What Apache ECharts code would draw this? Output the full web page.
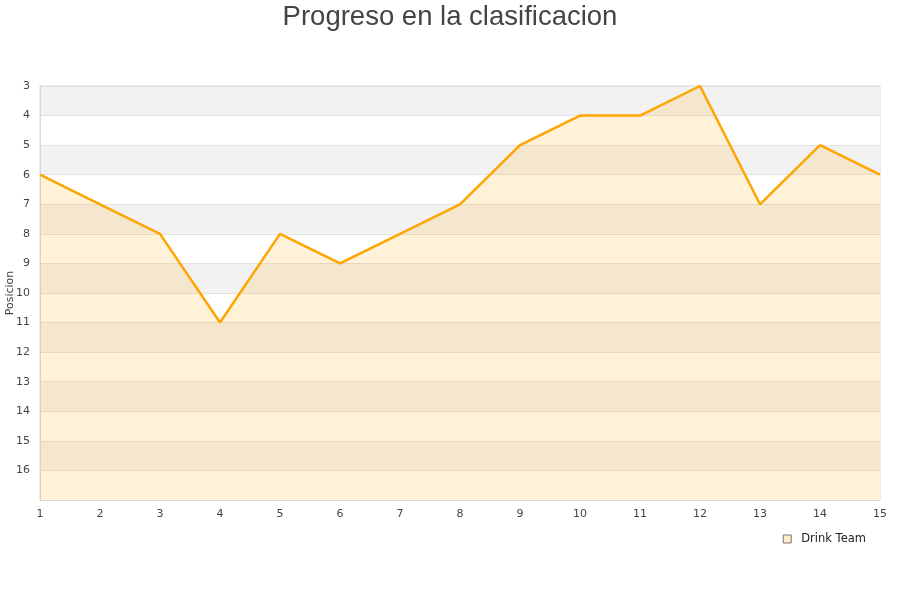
<!DOCTYPE html>
<html><head><meta charset="utf-8">
<script src="https://cdn.jsdelivr.net/npm/echarts@6/dist/echarts.min.js"></script>
<style>html,body{margin:0;padding:0;background:#fff}#c{width:900px;height:600px}</style>
</head><body><div id="c"></div>
<script>
const rounds = ['1','2','3','4','5','6','7','8','9','10','11','12','13','14','15'];
const positions = [6,7,8,11,8,9,8,7,5,4,4,3,7,5,6];
const seriesName = 'Drink Team';
const titleText = 'Progreso en la clasificacion';
const yName = 'Posicion';

const chart = echarts.init(document.getElementById('c'));
chart.setOption({
  animation: false,
  title: {text: titleText, left: 'center', top: -2,
    textStyle: {fontFamily: 'Liberation Sans', fontSize: 27.5, fontWeight: 'normal', color: '#444'}},
  legend: {data: [{name: seriesName, icon: 'rect'}], right: 29, top: 528, itemWidth: 8, itemHeight: 8, itemGap: 7,
    textStyle: {fontFamily: 'DejaVu Sans', fontSize: 11.5, color: '#222', padding: [0, 0, 0, 5]},
    itemStyle: {color: '#feecc9', borderColor: '#777', borderWidth: 1}},
  grid: {left: 40, right: 20, top: 86, bottom: 100, containLabel: false, outerBoundsMode: 'none',
    show: true, borderColor: '#d8d8d8', borderWidth: 1, backgroundColor: 'transparent'},
  xAxis: {type: 'category', data: rounds, boundaryGap: false,
    axisLine: {lineStyle: {color: '#d8d8d8'}}, axisTick: {show: false},
    axisLabel: {fontFamily: 'DejaVu Sans', fontSize: 11, color: '#444', margin: 9},
    splitLine: {show: false}},
  yAxis: {type: 'value', inverse: true, min: 3, max: 17, interval: 1,
    name: yName, nameLocation: 'middle', nameGap: 24, nameRotate: 90, nameMoveOverlap: false,
    nameTextStyle: {fontFamily: 'DejaVu Sans', fontSize: 11, color: '#444'},
    axisLine: {show: true, lineStyle: {color: '#d8d8d8'}}, axisTick: {show: false},
    axisLabel: {fontFamily: 'DejaVu Sans', fontSize: 11, color: '#444', margin: 10,
      formatter: v => v === 17 ? '' : String(v)},
    splitLine: {show: true, lineStyle: {color: '#e2e2e2'}},
    splitArea: {show: true, areaStyle: {color: ['#f2f2f2', '#ffffff']}}},
  series: [{name: seriesName, type: 'line', data: positions, symbol: 'none',
    lineStyle: {color: '#ffa500', width: 2.5},
    itemStyle: {color: '#feecc9', borderColor: '#777'},
    areaStyle: {color: 'rgba(255,165,0,0.21)', origin: 'end'}}]
});
</script></body></html>
